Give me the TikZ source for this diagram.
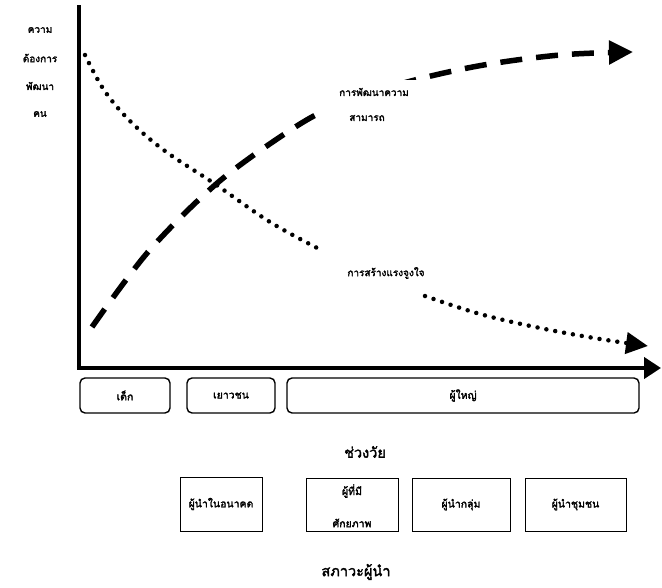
\documentclass[tikz,border=0pt]{standalone}
\usepackage{fontspec}
\newfontfamily\thaifont[Script=Thai,FakeBold=2.2]{Loma}
\usetikzlibrary{arrows.meta}
\begin{document}
\begin{tikzpicture}[x=1pt,y=-1pt,
  lbl/.style={font=\thaifont\fontsize{10}{12}\selectfont, inner sep=0pt, align=center},
  cover/.style={fill=white, inner sep=0pt},
  big/.style={font=\thaifont\fontsize{14.5}{16}\selectfont, inner sep=0pt},
  agebox/.style={draw, line width=1.4pt, rounded corners=5pt, font=\thaifont\fontsize{10.5}{12}\selectfont},
  leadbox/.style={draw, line width=0.9pt, font=\thaifont\fontsize{10.5}{12}\selectfont, align=center},
  axis/.style={line width=4.5pt},
  capline/.style={line width=5.5pt, dash pattern=on 22pt off 14pt, -{Triangle[length=24pt,width=23pt]}},
  motline/.style={line width=4.5pt, line cap=round, dash pattern=on 0pt off 9pt}
]
\useasboundingbox (0,0) rectangle (662,587);
% axes
\coordinate (ytop) at (79,5);
\coordinate (orig) at (79,368);
\coordinate (xend) at (661,368);
\draw[axis] (ytop) -- ([yshift=2.2pt]orig);
\draw[axis, -{Triangle[length=17pt,width=21pt]}] ([xshift=-2.2pt]orig) -- (xend);
% y label
\node[lbl] (y1) at (40,30) {ความ};
\node[lbl] (y2) at (40,58) {ต้องการ};
\node[lbl] (y3) at (40,86) {พัฒนา};
\node[lbl] (y4) at (40,114) {คน};
% capability curve
\draw[capline] plot[smooth, tension=0.55] coordinates {(92,327) (148,252) (215,185) (280,137) (330,108) (400,84) (478,66) (560,55) (633,52)};
% motivation curve
\draw[motline] plot[smooth, tension=0.6] coordinates {(85,55) (104,90) (130,121) (165,151) (215,184) (270,222) (323,251)};
\draw[motline, -{Triangle[length=22pt,width=21pt]}] plot[smooth, tension=0.6] coordinates {(425,296) (480,314) (540,328) (600,339) (648,346)};
% curve labels
\node[cover, minimum width=108pt, minimum height=50pt] (capbg) at (373,105) {};
\node[lbl] (cap1) at (374,92) {การพัฒนาความ};
\node[lbl] (cap2) at (367,118) {สามารถ};
\node[lbl] (mot) at (386,273) {การสร้างแรงจูงใจ};
% age boxes
\node[agebox, minimum width=90pt, minimum height=35pt] (kid) at (125,395.5) {เด็ก};
\node[agebox, minimum width=88pt, minimum height=35pt] (youth) at (231,395.5) {เยาวชน};
\node[agebox, minimum width=352pt, minimum height=35pt] (adult) at (463,395.5) {ผู้ใหญ่};
\node[big] (age) at (365,452) {ช่วงวัย};
% leader boxes
\node[leadbox, minimum width=82pt, minimum height=54pt] (fut) at (221,504) {ผู้นำในอนาคต};
\node[leadbox, minimum width=92pt, minimum height=53pt] (pot) at (352,504.5) {};
\node[lbl, font=\thaifont\fontsize{10.5}{12}\selectfont] (pot1) at (352,491) {ผู้ที่มี};
\node[lbl, font=\thaifont\fontsize{10.5}{12}\selectfont] (pot2) at (352,523) {ศักยภาพ};
\node[leadbox, minimum width=98pt, minimum height=53pt] (grp) at (461,504.5) {ผู้นำกลุ่ม};
\node[leadbox, minimum width=101pt, minimum height=53pt] (com) at (575.5,504.5) {ผู้นำชุมชน};
\node[big] (lead) at (356,572) {สภาวะผู้นำ};
\end{tikzpicture}
\end{document}
